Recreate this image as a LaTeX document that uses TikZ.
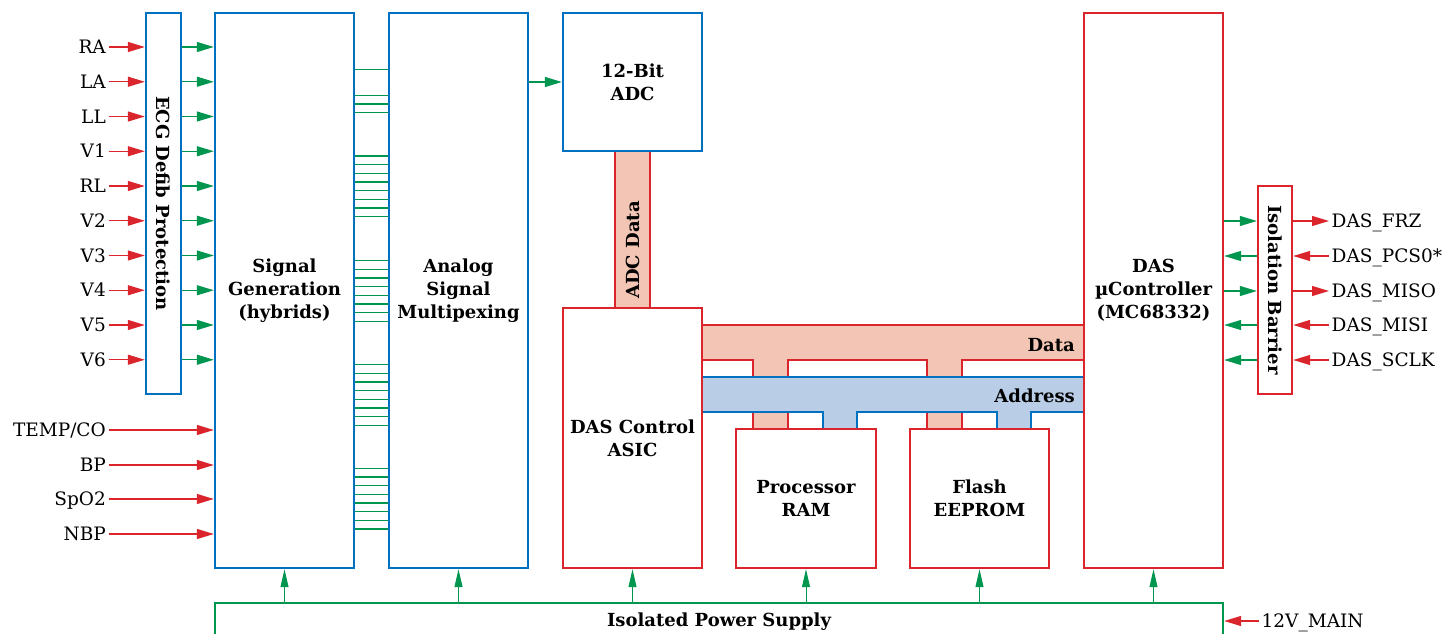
\documentclass[tikz,border=0pt]{standalone}
\usepackage{fontspec}
\setmainfont{DejaVu Serif}
\usetikzlibrary{arrows.meta}
\definecolor{cblue}{RGB}{0,112,192}
\definecolor{cred}{RGB}{218,37,45}
\definecolor{cgreen}{RGB}{0,150,80}
\definecolor{csalmon}{RGB}{242,197,180}
\definecolor{clblue}{RGB}{185,205,230}
\begin{document}
\begin{tikzpicture}[x=1pt,y=-1pt,
 bfnt/.style={font=\bfseries\fontsize{18}{23}\selectfont},
 box/.style={draw, line width=2.4pt, inner sep=0pt, align=center, bfnt},
 bbox/.style={box, draw=cblue},
 rbox/.style={box, draw=cred},
 gbox/.style={box, draw=cgreen},
 garr/.style={draw=cgreen, line width=1.3pt, -{Triangle[length=17pt,width=10pt]}},
 parr/.style={draw=cgreen, line width=1pt, -{Triangle[length=18pt,width=8pt]}},
 rarr/.style={draw=cred, line width=1.3pt, -{Triangle[length=17pt,width=10pt]}},
 gline/.style={draw=cgreen, line width=1.2pt},
 lab/.style={font=\fontsize{18.5}{22}\selectfont, inner sep=2.5pt, text height=13pt, text depth=0pt},
 buslab/.style={bfnt, inner sep=0pt, text height=13pt, text depth=0pt},
]
\useasboundingbox (0,0) rectangle (1444,634);

% ADC data bus
\fill[csalmon] (615,151) rectangle (650,308);
\draw[cred, line width=2pt] (615,151) -- (615,308) (650,151) -- (650,308);
\node[buslab, rotate=90] (adcdata) at (632.5,250) {ADC Data};

% Data bus
\fill[csalmon] (702,325) rectangle (1084,360);
\fill[csalmon] (753,360) rectangle (788,429);
\fill[csalmon] (927,360) rectangle (962,429);
\draw[cred, line width=2pt] (702,325) -- (1084,325);
\draw[cred, line width=2pt] (702,360) -- (753,360) -- (753,429)
  (788,429) -- (788,360) -- (927,360) -- (927,429)
  (962,429) -- (962,360) -- (1084,360);
% Address bus
\fill[clblue] (702,377) rectangle (1084,412);
\fill[clblue] (823,412) rectangle (857,429);
\fill[clblue] (997,412) rectangle (1031,429);
\draw[cblue, line width=2pt] (702,377) -- (1084,377);
\draw[cblue, line width=2pt] (702,412) -- (823,412) -- (823,429)
  (857,429) -- (857,412) -- (997,412) -- (997,429)
  (1031,429) -- (1031,412) -- (1084,412);
\node[buslab, anchor=east] (datalab) at (1075,345) {Data};
\node[buslab, anchor=east] (addrlab) at (1075,396) {Address};

% Boxes
\node[bbox, minimum width=35pt, minimum height=381pt,
  label={[bfnt, rotate=-90]center:ECG Defib Protection}] (ecg) at (163.5,203.5) {};
\node[bbox, minimum width=139pt, minimum height=555pt] (sg) at (284.5,290.5) {Signal\\Generation\\(hybrids)};
\node[bbox, minimum width=139pt, minimum height=555pt] (mux) at (458.5,290.5) {Analog\\Signal\\Multipexing};
\node[bbox, minimum width=139pt, minimum height=138pt] (adc) at (632.5,82) {12-Bit\\ADC};
\node[rbox, minimum width=139pt, minimum height=260pt] (asic) at (632.5,438) {DAS Control\\ASIC};
\node[rbox, minimum width=140pt, minimum height=139pt] (ram) at (806,498.5) {Processor\\RAM};
\node[rbox, minimum width=139pt, minimum height=139pt] (flash) at (979.5,498.5) {Flash\\EEPROM};
\node[rbox, minimum width=139pt, minimum height=555pt] (uc) at (1153.5,290.5) {DAS\\µController\\(MC68332)};
\node[rbox, minimum width=34pt, minimum height=208pt,
  label={[bfnt, rotate=-90]center:Isolation Barrier}] (iso) at (1275,290) {};
\node[gbox, minimum width=1008pt, minimum height=38pt] (psu) at (719,622) {Isolated Power Supply};

% ECG inputs
\foreach \t [count=\i from 0] in {RA,LA,LL,V1,RL,V2,V3,V4,V5,V6} {
  \pgfmathsetmacro\yy{47+34.75*\i}
  \node[lab, anchor=east] (in\i) at (108.5,\yy) {\t};
  \draw[rarr] (in\i.east) -- (in\i.east -| ecg.west);
  \draw[garr] (ecg.east |- in\i.east) -- (sg.west |- in\i.east);
}
% other inputs
\foreach \t/\yy [count=\i] in {{TEMP/CO}/430,BP/465,SpO2/499,NBP/534} {
  \node[lab, anchor=east] (ot\i) at (108.5,\yy) {\t};
  \draw[rarr] (ot\i.east) -- (ot\i.east -| sg.west);
}

% analog bus lines
\foreach \yy in {69.3,95.3,104,112.7} {
  \draw[gline] (sg.east |- 0,\yy) -- (mux.west |- 0,\yy);
}
\foreach \s in {156,260.7,364.7,468.3} {
  \foreach \k in {0,...,7} {
    \pgfmathsetmacro\yy{\s+8.67*\k}
    \draw[gline] (sg.east |- 0,\yy) -- (mux.west |- 0,\yy);
  }
}

% mux to ADC
\draw[garr] (mux.east |- adc.west) -- (adc.west);

% right side signals
\foreach \t/\yy/\d [count=\i] in {DAS\_FRZ/221/o,DAS\_PCS0*/256/i,DAS\_MISO/291/o,DAS\_MISI/325/i,DAS\_SCLK/360/i} {
  \node[lab, anchor=west] (out\i) at (1329,\yy) {\t};
  \if o\d
    \draw[garr] (uc.east |- out\i.west) -- (iso.west |- out\i.west);
    \draw[rarr] (iso.east |- out\i.west) -- (out\i.west);
  \else
    \draw[garr] (iso.west |- out\i.west) -- (uc.east |- out\i.west);
    \draw[rarr] (out\i.west) -- (iso.east |- out\i.west);
  \fi
}

% power
\foreach \b in {sg,mux,asic,ram,flash,uc} {
  \draw[parr] (\b.south |- psu.north) -- (\b.south);
}
\node[lab, anchor=west] (v12) at (1259,621) {12V\_MAIN};
\draw[rarr] (v12.west) -- (v12.west -| psu.east);
\end{tikzpicture}
\end{document}
